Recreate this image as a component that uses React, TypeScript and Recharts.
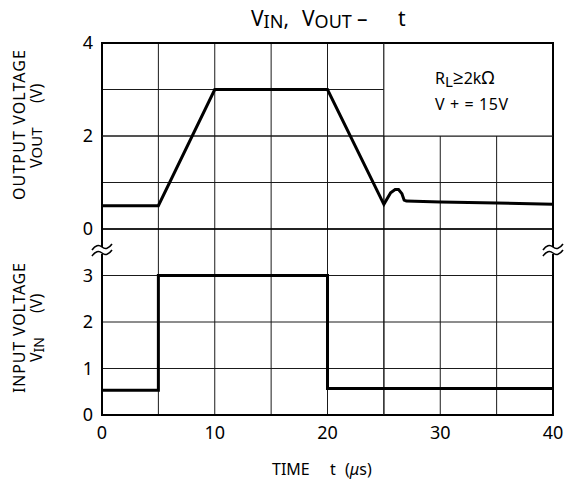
import {
  CartesianGrid,
  Line,
  LineChart,
  ReferenceArea,
  ReferenceLine,
  XAxis,
  YAxis,
} from "recharts";

const timeTicks = [0, 10, 20, 30, 40];
const gridTimes = [0, 5, 10, 15, 20, 25, 30, 35, 40];
const gridLevels = [0, 1, 2, 3, 4, 5, 6, 7, 8];
// bottom panel = VIN (0..4), top panel = VOUT shifted by 4
const levelTicks = [0, 1, 2, 3, 4, 6, 8];

const vinTime = [0, 5, 5, 20, 20, 40];
const vinValues = [0.53, 0.53, 3, 3, 0.57, 0.57];

const voutTime = [0, 5, 10, 20, 25, 25.6, 26.0, 26.3, 26.6, 26.8, 27, 30, 35, 40];
const voutValues = [0.5, 0.5, 3, 3, 0.53, 0.78, 0.85, 0.85, 0.76, 0.62, 0.6, 0.58, 0.56, 0.53];

const vinData = vinTime.map((t, i) => ({ t, v: vinValues[i] }));
const voutData = voutTime.map((t, i) => ({ t, v: voutValues[i] }));

const FONT = "'Noto Sans', 'Open Sans', sans-serif";
const GRID = "#1a1a1a";
const INK = "#000000";

function BreakMark({ x, y }: { x: number; y: number }) {
  return (
    <g>
      <rect x={x - 4} y={y - 4} width={8} height={7} fill="#fff" />
      <path
        d={`M ${x - 10} ${y - 1} q 5 -7 10 -3 q 5 4 10 -3`}
        fill="none"
        stroke={INK}
        strokeWidth={1.6}
      />
      <path
        d={`M ${x - 10} ${y + 5} q 5 -7 10 -3 q 5 4 10 -3`}
        fill="none"
        stroke={INK}
        strokeWidth={1.6}
      />
    </g>
  );
}

export default function App() {
  return (
    <div
      style={{
        position: "absolute",
        left: 0,
        top: 0,
        width: 568,
        height: 481,
        background: "#fff",
        fontFamily: FONT,
      }}
    >
      <LineChart
        width={568}
        height={481}
        margin={{ top: 43, right: 15, left: 72, bottom: 36 }}
      >
        <CartesianGrid
          yAxisId="in"
          stroke={GRID}
          strokeWidth={1}
          horizontalValues={gridLevels}
          verticalValues={gridTimes}
        />
        <XAxis
          type="number"
          dataKey="t"
          domain={[0, 40]}
          ticks={timeTicks}
          allowDuplicatedCategory={false}
          tickLine={false}
          axisLine={false}
          tickMargin={5}
          height={30}
          tick={{ fill: INK, fontSize: 18, fontFamily: FONT }}
        />
        <YAxis
          yAxisId="in"
          type="number"
          domain={[0, 8]}
          ticks={levelTicks}
          interval={0}
          width={30}
          tickLine={false}
          axisLine={false}
          tickMargin={3}
          tickFormatter={(v: number) => String(v >= 4 ? v - 4 : v)}
          tick={{ fill: INK, fontSize: 18, fontFamily: FONT }}
        />
        <YAxis yAxisId="out" type="number" domain={[-4, 4]} hide />

        <ReferenceArea
          yAxisId="in"
          x1={25}
          x2={40}
          y1={6}
          y2={8}
          fill="#fff"
          fillOpacity={1}
          stroke="none"
        />
        <ReferenceLine yAxisId="in" x={25} stroke={GRID} strokeWidth={1} />
        <ReferenceLine yAxisId="in" y={6} stroke={GRID} strokeWidth={1} />
        <ReferenceLine yAxisId="in" y={4} stroke={INK} strokeWidth={1.5} />

        <Line
          yAxisId="in"
          data={vinData}
          dataKey="v"
          type="linear"
          stroke={INK}
          strokeWidth={3}
          dot={false}
          isAnimationActive={false}
        />
        <Line
          yAxisId="out"
          data={voutData}
          dataKey="v"
          type="linear"
          stroke={INK}
          strokeWidth={3}
          dot={false}
          isAnimationActive={false}
        />

        <ReferenceArea
          yAxisId="in"
          x1={0}
          x2={40}
          y1={0}
          y2={8}
          fill="none"
          stroke={INK}
          strokeWidth={2}
        />
      </LineChart>

      <svg
        width={568}
        height={481}
        style={{ position: "absolute", left: 0, top: 0, pointerEvents: "none" }}
        fontFamily={FONT}
      >
        <BreakMark x={102} y={251} />
        <BreakMark x={553} y={251} />

        <text y={26} fontSize={21} fill={INK}>
          <tspan x={251}>V</tspan>
          <tspan fontSize={18} dy={2}>IN</tspan>
          <tspan dy={-2}>,</tspan>
          <tspan x={302}>V</tspan>
          <tspan fontSize={18} dy={2}>OUT</tspan>
          <tspan dy={-2} x={357}>–</tspan>
          <tspan x={398}>t</tspan>
        </text>

        <text x={435} y={84} fontSize={16} fill={INK}>
          <tspan>R</tspan>
          <tspan fontSize={15} dy={3}>L</tspan>
          <tspan dy={-3} fontSize={19}>≥</tspan>
          <tspan>2k</tspan>
          <tspan fontSize={18}>Ω</tspan>
        </text>
        <text
          x={435}
          y={110}
          fontSize={16}
          fill={INK}
          textLength={73}
          lengthAdjust="spacing"
        >
          {"V + = 15V"}
        </text>

        <g transform="translate(25 200) rotate(-90)">
          <text fontSize={16} textLength={150} lengthAdjust="spacing" fill={INK}>
            OUTPUT VOLTAGE
          </text>
        </g>
        <g transform="translate(42 168) rotate(-90)">
          <text fontSize={16} fill={INK}>
            <tspan x={0}>V</tspan>
            <tspan fontSize={15}>OUT</tspan>
            <tspan x={65}>(V)</tspan>
          </text>
        </g>

        <g transform="translate(25 393) rotate(-90)">
          <text fontSize={16} textLength={130} lengthAdjust="spacing" fill={INK}>
            INPUT VOLTAGE
          </text>
        </g>
        <g transform="translate(42 362) rotate(-90)">
          <text fontSize={16} fill={INK}>
            <tspan x={0}>V</tspan>
            <tspan fontSize={14} dy={2}>IN</tspan>
            <tspan dy={-2} x={49}>(V)</tspan>
          </text>
        </g>

        <text y={475} fontSize={16} fill={INK}>
          <tspan x={272}>TIME</tspan>
          <tspan x={330}>t</tspan>
          <tspan x={345}>(</tspan>
          <tspan fontStyle="italic">μ</tspan>
          <tspan>s)</tspan>
        </text>
      </svg>
    </div>
  );
}
